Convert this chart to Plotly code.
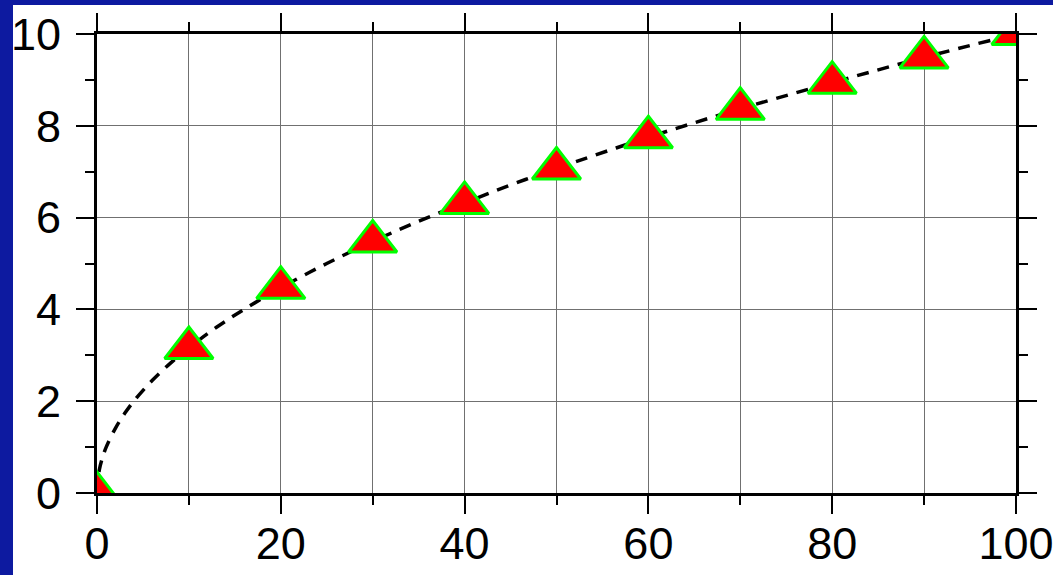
import plotly.graph_objects as go

# Marker data
marker_x = [0, 10, 20, 30, 40, 50, 60, 70, 80, 90, 100]
marker_y = [0, 3.16, 4.47, 5.48, 6.32, 7.07, 7.75, 8.37, 8.94, 9.49, 10]

# Dashed curve points
curve_x = [0, 0.25, 0.5, 1, 2, 3, 4, 6, 8, 10, 13, 16, 20, 25, 30, 35, 40, 45, 50, 60, 70, 80, 90, 100]
curve_y = [0, 0.5, 0.71, 1.0, 1.41, 1.73, 2.0, 2.45, 2.83, 3.16, 3.61, 4.0, 4.47, 5.0, 5.48, 5.92,
           6.32, 6.71, 7.07, 7.75, 8.37, 8.94, 9.49, 10]

x_ticks = [0, 20, 40, 60, 80, 100]
y_ticks = [0, 2, 4, 6, 8, 10]

BLUE = "#0d1aa0"
FONT = "Liberation Sans, Arial, Helvetica, sans-serif"

fig = go.Figure()
fig.add_trace(go.Scatter(
    x=curve_x, y=curve_y, mode="lines",
    line=dict(color="black", width=3.5, dash="12px,9px", shape="spline"),
    hoverinfo="skip", showlegend=False,
))
fig.add_trace(go.Scatter(
    x=marker_x, y=marker_y, mode="markers",
    marker=dict(symbol="triangle-up", size=42, color="#ff0000",
                line=dict(color="#00ff00", width=3)),
    showlegend=False,
))

axis_common = dict(
    showline=True, linecolor="black", linewidth=3, mirror="ticks",
    ticks="outside", ticklen=18, tickwidth=1.5, tickcolor="black",
    showgrid=True, gridcolor="#707070", gridwidth=1,
    zeroline=False, automargin=False, ticklabeloverflow="allow",
    tickfont=dict(family=FONT, size=45, color="black"),
)

fig.update_xaxes(
    range=[0, 100], tickvals=x_ticks, ticktext=[str(v) for v in x_ticks],
    ticklabelstandoff=-9,
    minor=dict(dtick=10, ticklen=9, tickwidth=1.5, tickcolor="black", ticks="outside",
               showgrid=True, gridcolor="#707070", gridwidth=1),
    **axis_common,
)
fig.update_yaxes(
    range=[0, 10], tickvals=y_ticks, ticktext=[str(v) for v in y_ticks],
    ticklabelstandoff=6,
    minor=dict(dtick=1, ticklen=9, tickwidth=1.5, tickcolor="black", ticks="outside",
               showgrid=False),
    **axis_common,
)

# blue slide strips on the left and top
fig.add_shape(type="rect", xref="paper", yref="paper", x0=-0.3, x1=(13 - 97) / 919,
              y0=-0.3, y1=1.3, fillcolor=BLUE, line_width=0, layer="below")
fig.add_shape(type="rect", xref="paper", yref="paper", x0=-0.3, x1=1.3,
              y0=(493 - 5) / 459, y1=1.3, fillcolor=BLUE, line_width=0, layer="below")

fig.update_layout(
    width=1053, height=575,
    margin=dict(l=97, r=37, t=34, b=82, autoexpand=False),
    paper_bgcolor="white", plot_bgcolor="white",
    showlegend=False,
)

fig.write_html(
    "out.html",
    config={"displayModeBar": False},
    post_script="document.body.style.margin='0';document.body.style.overflow='hidden';",
)
